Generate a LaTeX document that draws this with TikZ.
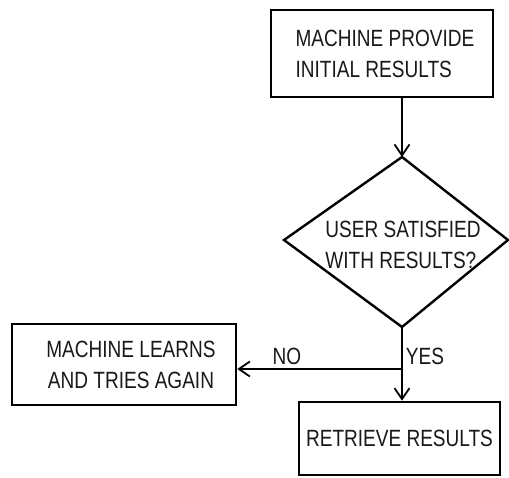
\documentclass[tikz,border=0pt]{standalone}
\usepackage{fontspec}
\setmainfont[FakeStretch=0.81]{Liberation Sans}
\usetikzlibrary{arrows.meta}
\begin{document}
\begin{tikzpicture}[x=1pt,y=-1pt,
  every node/.style={font=\fontsize{23.5}{31}\selectfont, text=black!90},
  box/.style={draw=black, line width=2.6pt, inner sep=0pt, align=left},
  conn/.style={draw=black, line width=2pt, -{Straight Barb[length=11pt,width=15pt,line width=1.8pt]}},
  lbl/.style={inner sep=0pt}]
\useasboundingbox (0,0) rectangle (509,477);
\fill[white] (0,0) rectangle (509,477);
\node[box, minimum width=222pt, minimum height=87pt] (top) at (382,53.5) {\hspace*{6pt}MACHINE PROVIDE\\\hspace*{6pt}INITIAL RESULTS};
\coordinate (dtop) at (402,157);
\coordinate (dleft) at (284,240);
\coordinate (dright) at (508,240);
\coordinate (dbot) at (402,327);
\draw[line width=2.4pt, line join=miter] (dtop) -- (dright) -- (dbot) -- (dleft) -- cycle;
\node[lbl, align=left] (dtext) at (403,245) {USER SATISFIED\\WITH RESULTS?};
\node[box, minimum width=224pt, minimum height=81pt, align=center] (learn) at (124,364.5) {\hspace*{14pt}MACHINE LEARNS\\\hspace*{14pt}AND TRIES AGAIN};
\node[box, minimum width=201pt, minimum height=73pt] (ret) at (399.5,438.5) {RETRIEVE RESULTS};
\coordinate (split) at (402,369);
\draw[conn] (top.south -| dtop) -- (dtop);
\draw[conn] (dbot) -- (dbot |- ret.north);
\draw[conn] (split) -- (split -| learn.east);
\node[lbl] (no) at (287,356) {NO};
\node[lbl] (yes) at (425,356) {YES};
\end{tikzpicture}
\end{document}
